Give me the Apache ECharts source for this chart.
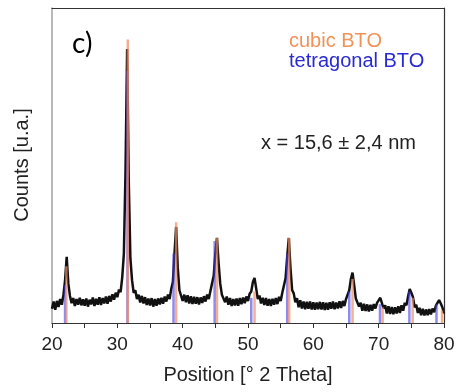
<!DOCTYPE html>
<html>
<head>
<meta charset="utf-8">
<script src="https://cdn.jsdelivr.net/npm/echarts@6/dist/echarts.min.js"></script>
<style>
	html, body { margin: 0; padding: 0; background: #fff; }
	#chart { width: 459px; height: 392px; }
</style>
</head>
<body>
<div id="chart"></div>
<script>
	// XRD scan: start angle, step and counts (arbitrary units)
	var scanStart = 20;
	var scanStep = 0.25;
	var counts = [
		4.5, 6.8, 4.2, 7.0, 5.1, 7.6, 5.8, 8.9, 13.5, 21.0, 12.5, 8.6, 6.3, 7.9, 5.4, 7.6, 5.8, 8.0, 5.6, 7.5,
		5.5, 7.8, 5.2, 7.4, 5.9, 8.1, 5.4, 7.7, 5.8, 8.2, 5.7, 7.9, 6.2, 8.4, 6.1, 8.6, 6.8, 9.1, 7.4, 9.6,
		8.2, 10.6, 9.8, 14.5, 22.0, 48.0, 87.0, 45.0, 20.5, 13.6, 9.6, 10.4, 7.6, 9.0, 6.5, 8.6, 6.2, 8.2, 5.7, 7.8,
		5.6, 7.9, 5.2, 7.6, 5.5, 7.8, 5.9, 8.0, 6.1, 8.4, 6.8, 9.0, 7.6, 10.8, 13.0, 22.0, 30.5, 17.5, 10.4, 10.0,
		7.0, 9.0, 6.6, 8.8, 6.2, 8.5, 6.0, 8.3, 6.1, 8.2, 5.9, 8.1, 6.4, 8.5, 6.8, 9.0, 7.6, 10.2, 10.4, 15.0,
		22.0, 27.0, 19.0, 12.5, 9.0, 9.6, 6.6, 8.4, 5.8, 7.9, 5.4, 7.6, 5.6, 7.8, 5.5, 7.9, 6.0, 8.1, 6.3, 8.4,
		7.0, 9.3, 10.0, 13.0, 14.3, 11.0, 7.6, 8.7, 6.2, 8.0, 5.7, 7.9, 5.5, 7.6, 5.4, 7.7, 5.8, 7.9, 6.0, 8.3,
		7.0, 9.6, 10.0, 14.2, 21.0, 27.0, 17.5, 10.5, 9.4, 6.6, 7.9, 5.0, 7.2, 4.6, 6.8, 4.4, 6.7, 4.5, 6.8, 4.3,
		6.6, 4.2, 6.5, 4.4, 6.7, 4.3, 6.6, 4.1, 6.4, 4.2, 6.6, 4.5, 6.8, 4.4, 6.5, 4.6, 6.9, 4.8, 7.0, 5.4,
		7.6, 7.2, 10.4, 14.0, 16.0, 12.0, 7.8, 7.4, 5.2, 6.4, 3.9, 6.1, 3.8, 5.9, 3.7, 5.8, 3.9, 6.0, 4.6, 6.4,
		6.0, 8.0, 7.4, 4.6, 5.6, 3.0, 5.3, 2.9, 5.1, 2.8, 5.0, 3.0, 5.3, 3.2, 5.6, 3.9, 6.4, 5.6, 8.4, 10.8,
		9.6, 8.2, 5.0, 5.8, 3.2, 4.8, 2.5, 4.5, 2.4, 4.3, 2.5, 4.4, 2.7, 4.6, 3.4, 5.5, 4.9, 7.3, 6.2, 5.0,
		3.0
	];

	// reference patterns (position, relative height)
	var cubicPos = [22.2, 31.6, 39.0, 45.25, 51.0, 56.3, 66.0, 70.6, 75.2, 79.7];
	var cubicHeight = [18, 90, 32, 27, 10, 27, 14, 5, 8, 4];
	var tetraPos = [22.0, 31.55, 38.6, 44.9, 50.5, 56.0, 65.5, 70.2, 74.7, 78.85];
	var tetraHeight = [12, 80, 22, 26, 8, 22, 10, 6, 10, 6];

	var xTicks = [20, 30, 40, 50, 60, 70, 80];

	var scan = [];
	for (var i = 0; i < counts.length; i++) {
		scan.push([scanStart + i * scanStep, counts[i]]);
	}

	function sticks(pos, h) {
		var out = [];
		for (var i = 0; i < pos.length; i++) out.push([pos[i], h[i]]);
		return out;
	}

	function stickRenderer(color) {
		return function (params, api) {
			var top = api.coord([api.value(0), api.value(1)]);
			var base = api.coord([api.value(0), 0]);
			return {
				type: 'line',
				shape: { x1: top[0], y1: base[1], x2: top[0], y2: top[1] },
				style: { stroke: color, lineWidth: 2.5 }
			};
		};
	}

	var font = 'Liberation Sans, Arial, sans-serif';
	var chart = echarts.init(document.getElementById('chart'));

	chart.setOption({
		animation: false,
		backgroundColor: '#fff',
		grid: { left: 52, right: 15, top: 8, bottom: 69 },
		xAxis: [{
			type: 'value',
			min: 20, max: 80, interval: 10,
			name: 'Position [° 2 Theta]',
			nameLocation: 'middle',
			nameGap: 42,
			nameTextStyle: { fontFamily: font, fontSize: 20, color: '#222' },
			axisLine: { onZero: false, lineStyle: { color: '#333', width: 1 } },
			axisTick: { show: true, length: 5, inside: false, lineStyle: { color: '#333' } },
			minorTick: { show: true, splitNumber: 2, length: 5, lineStyle: { color: '#333' } },
			axisLabel: {
				fontFamily: font, fontSize: 19, color: '#222', margin: 12,
				formatter: function (v) { return xTicks.indexOf(v) >= 0 ? String(v) : ''; }
			},
			splitLine: { show: false }
		}, {
			type: 'value', position: 'top', min: 20, max: 80,
			axisLine: { onZero: false, lineStyle: { color: '#333', width: 1.2 } },
			axisTick: { show: false }, axisLabel: { show: false }, splitLine: { show: false }
		}],
		yAxis: [{
			type: 'value', min: 0, max: 100,
			axisLine: { show: true, lineStyle: { color: '#a0a0a0', width: 1.5 } },
			axisTick: { show: false }, axisLabel: { show: false }, splitLine: { show: false }
		}, {
			type: 'value', position: 'right', min: 0, max: 100,
			axisLine: { show: true, lineStyle: { color: '#333', width: 1.2 } },
			axisTick: { show: false }, axisLabel: { show: false }, splitLine: { show: false }
		}],
		series: [{
			type: 'line',
			data: scan,
			showSymbol: false,
			lineStyle: { color: '#111', width: 2.5 },
			z: 2
		}, {
			type: 'custom',
			data: sticks(tetraPos, tetraHeight),
			renderItem: stickRenderer('rgba(70,60,225,0.6)'),
			z: 3
		}, {
			type: 'custom',
			data: sticks(cubicPos, cubicHeight),
			renderItem: stickRenderer('rgba(240,140,100,0.7)'),
			z: 4
		}],
		graphic: [{
			type: 'text', left: 72, top: 30,
			style: { text: 'c)', font: '28px Lato, sans-serif', fill: '#000' }
		}, {
			type: 'text', x: 289, y: 41,
			style: { text: 'cubic BTO', font: '20px ' + font, fill: '#f0935a', verticalAlign: 'middle' }
		}, {
			type: 'text', x: 289, y: 61,
			style: { text: 'tetragonal BTO', font: '20px ' + font, fill: '#2a2ad0', verticalAlign: 'middle' }
		}, {
			type: 'text', x: 261, y: 143,
			style: { text: 'x = 15,6 ± 2,4 nm', font: '20px ' + font, fill: '#222', verticalAlign: 'middle' }
		}, {
			type: 'text', x: 22, y: 165, rotation: Math.PI / 2,
			style: { text: 'Counts [u.a.]', font: '20px ' + font, fill: '#222', align: 'center', verticalAlign: 'middle' }
		}]
	});
</script>
</body>
</html>
